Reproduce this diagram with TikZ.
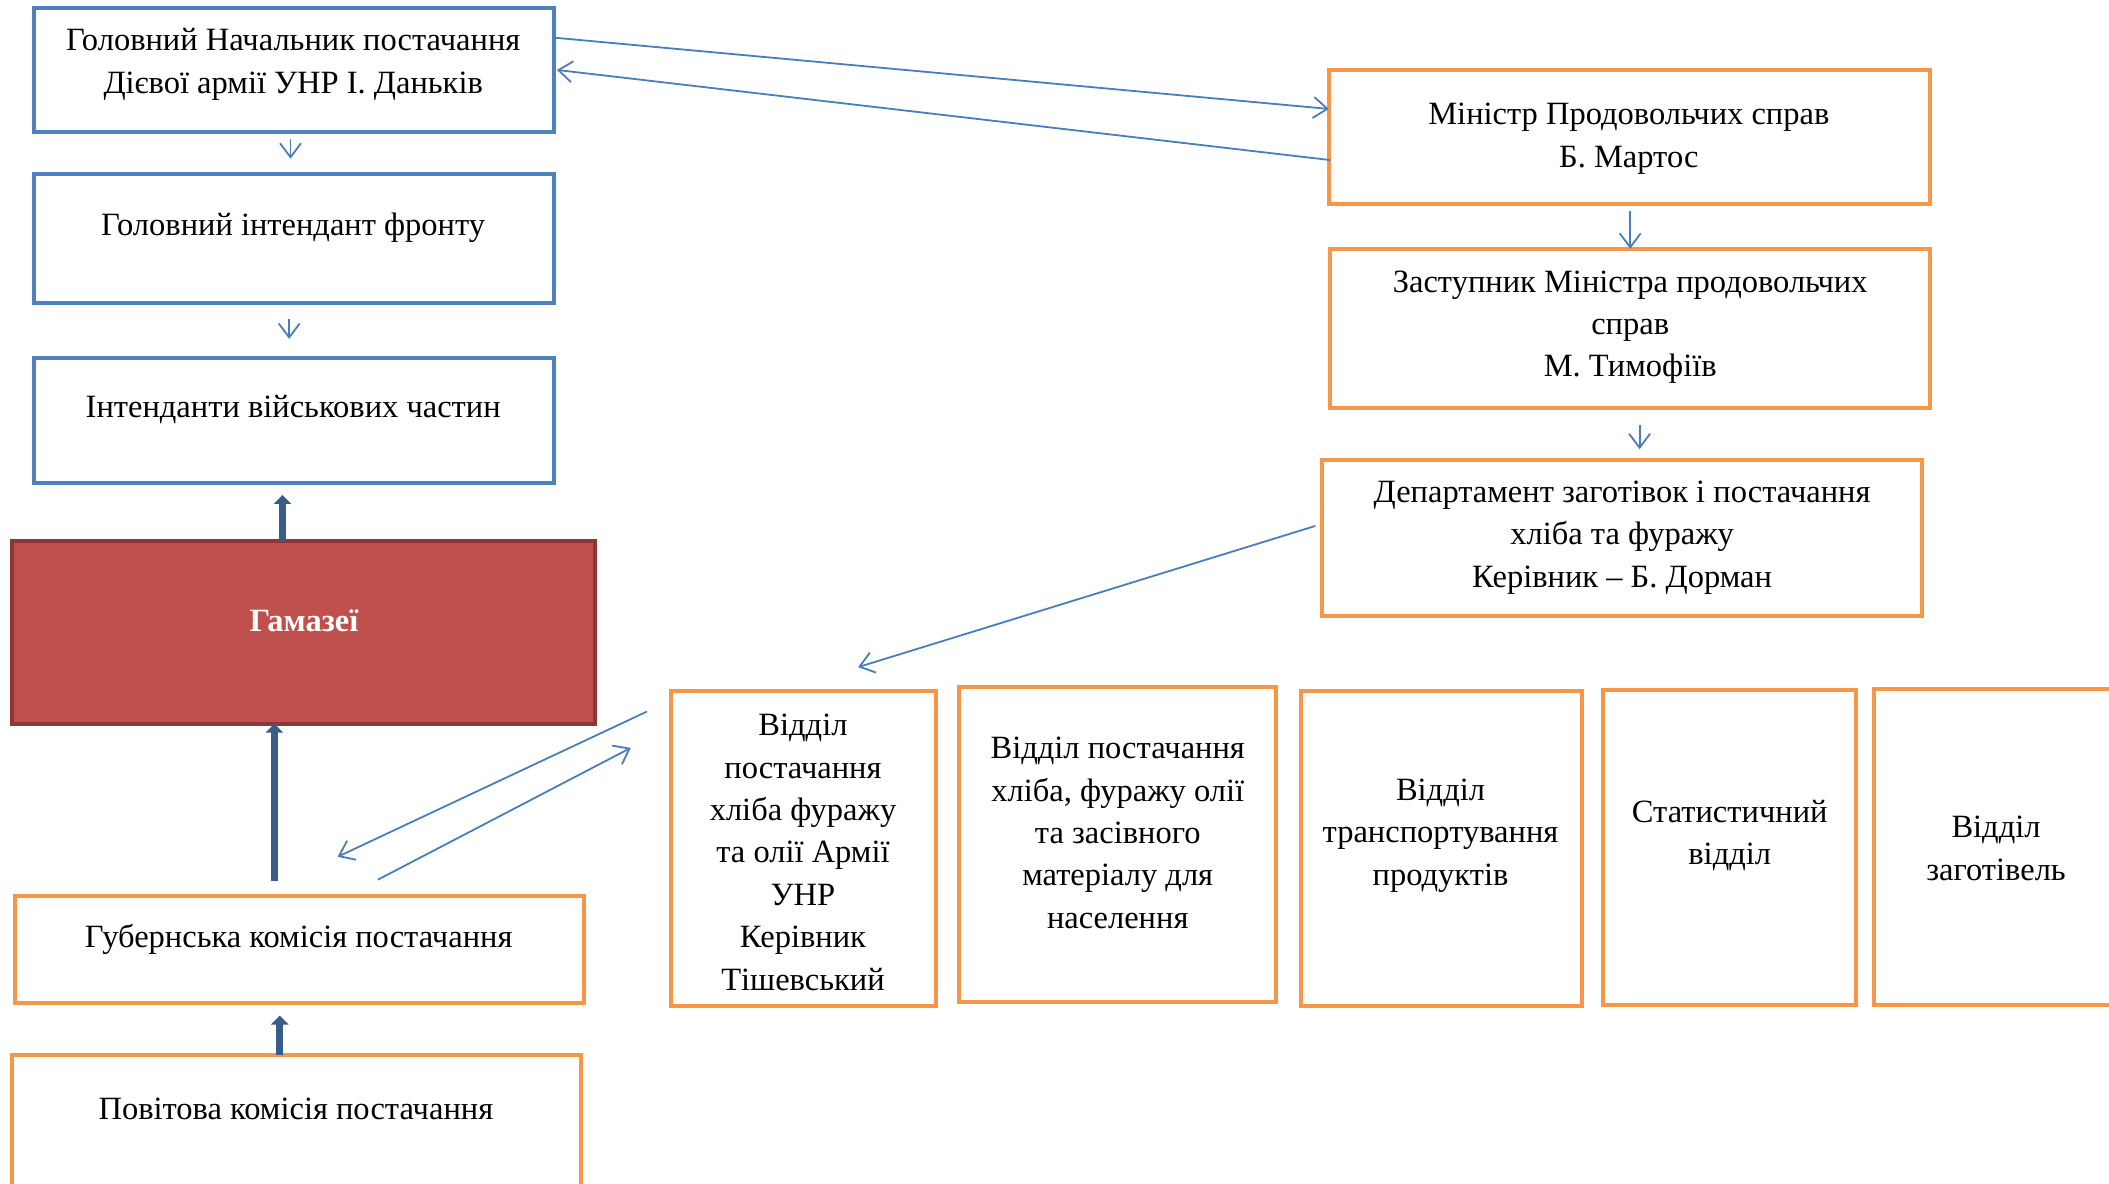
\documentclass[tikz,border=0pt]{standalone}
\usepackage{fontspec}
\setmainfont{Liberation Serif}
\usetikzlibrary{arrows.meta,calc}
\definecolor{bxblue}{HTML}{4F81BD}
\definecolor{lnblue}{HTML}{4A7EBB}
\definecolor{bxorange}{HTML}{F79646}
\definecolor{gamfill}{HTML}{C0504D}
\definecolor{gamline}{HTML}{8C3836}
\definecolor{thickblue}{HTML}{385D8A}
\begin{document}
\begin{tikzpicture}[x=1.345pt,y=-1.345pt,
  bx/.style 2 args={minimum width=#1*1.345pt, minimum height=#2*1.345pt, inner sep=0pt, outer sep=0pt},
  bluebox/.style={draw=bxblue, line width=4pt, fill=white},
  orangebox/.style={draw=bxorange, line width=4pt, fill=white},
  redbox/.style={draw=gamline, line width=4pt, fill=gamfill},
  txt/.style={font=\fontsize{32.5}{42.4}\selectfont, align=center, inner sep=0pt, yshift=-3pt},
  thinarrow/.style={draw=lnblue, line width=1.8pt, -{Straight Barb[length=14pt,width=21pt,line width=1.8pt]}},
  thickarrow/.style={draw=thickblue, line width=7pt, -{Triangle[length=9pt,width=17pt]}}
]
\useasboundingbox (0,0) rectangle (1568,880);
\clip (0,0) rectangle (1568,880);

% left column
\node[bluebox, bx={387}{92}] (b1) at (218.5,52) {};
\node[txt] (t1) at (218,45.5) {Головний Начальник постачання\\Дієвої армії УНР І. Даньків};
\node[bluebox, bx={387}{96}] (b2) at (218.5,177) {};
\node[txt] (t2) at (218,167) {Головний інтендант фронту};
\node[bluebox, bx={387}{93}] (b3) at (218.5,312.5) {};
\node[txt] (t3) at (218,302) {Інтенданти військових частин};

\node[redbox, bx={433}{136}] (gam) at (225.5,470) {};
\node[txt, text=white, font=\fontsize{32.5}{42.4}\selectfont\bfseries] (tg) at (226,459) {Гамазеї};

\node[orangebox, bx={423}{80}] (gub) at (222.5,706) {};
\node[txt] (tgub) at (222,696) {Губернська комісія постачання};
\node[orangebox, bx={423}{140}] (pov) at (220.5,854) {};
\node[txt] (tpov) at (220,822) {Повітова комісія постачання};

% right column
\node[orangebox, bx={447}{100}] (min) at (1211.5,102) {};
\node[txt] (tmin) at (1211,101) {Міністр Продовольчих справ\\Б. Мартос};
\node[orangebox, bx={446}{118}] (dep) at (1212,244) {};
\node[txt] (tdep) at (1212,241) {Заступник Міністра продовольчих\\справ\\М. Тимофіїв};
\node[orangebox, bx={446}{116}] (dept) at (1206,400) {};
\node[txt] (tdept) at (1206,397.5) {Департамент заготівок і постачання\\хліба та фуражу\\Керівник -- Б. Дорман};

% bottom row
\node[orangebox, bx={197}{234}] (v1) at (597.5,631) {};
\node[txt] (tv1) at (597,631.5) {Відділ\\постачання\\хліба фуражу\\та олії Армії\\УНР\\Керівник\\Тішевський};
\node[orangebox, bx={236}{234}] (v2) at (831,628) {};
\node[txt] (tv2) at (831,617) {Відділ постачання\\хліба, фуражу олії\\та засівного\\матеріалу для\\населення};
\node[orangebox, bx={209}{234}] (v3) at (1071.5,631) {};
\node[txt] (tv3) at (1071,619) {Відділ\\транспортування\\продуктів};
\node[orangebox, bx={188}{234}] (v4) at (1286,630) {};
\node[txt] (tv4) at (1286,619) {Статистичний\\відділ};
\node[orangebox, bx={207}{235}] (v5) at (1496.5,629.5) {};
\node[txt] (tv5) at (1484,628.5) {Відділ\\заготівель};

% thin connectors
\draw[thinarrow] ($(b1.south)+(-2.5,5)$) -- ($(b2.north)+(-2.5,-11)$);
\draw[thinarrow] ($(b2.south)+(-3.5,12)$) -- ($(b3.north)+(-3.5,-14)$);
\draw[thinarrow] ($(b1.north east)+(0,22)$) -- ($(min.north west)+(0,29)$);
\draw[thinarrow] ($(min.north west)+(1,67)$) -- ($(b1.north east)+(2,46)$);
\draw[thinarrow] ($(min.south)+(0.5,5)$) -- (dep.north);
\draw[thinarrow] ($(dep.south)+(7,13)$) -- ($(dept.north)+(13,-8)$);
\draw[thinarrow] ($(dept.west)+(-5,-9)$) -- ($(v1.north)+(40.5,-18)$);
\draw[thinarrow] ($(v1.north west)+(-18,15)$) -- ($(gub.north)+(28.5,-29)$);
\draw[thinarrow] ($(gub.north)+(58.5,-12)$) -- ($(v1.north west)+(-30,42)$);

% thick arrows
\draw[thickarrow] ($(gam.north)+(-15.5,0)$) -- ($(b3.south)+(-8.5,9)$);
\draw[thickarrow] ($(gub.north)+(-18.5,-11)$) -- ($(gam.south)+(-21.5,0)$);
\draw[thickarrow] ($(pov.north)+(-12.5,0)$) -- ($(gub.south)+(-14.5,9)$);
\end{tikzpicture}
\end{document}
